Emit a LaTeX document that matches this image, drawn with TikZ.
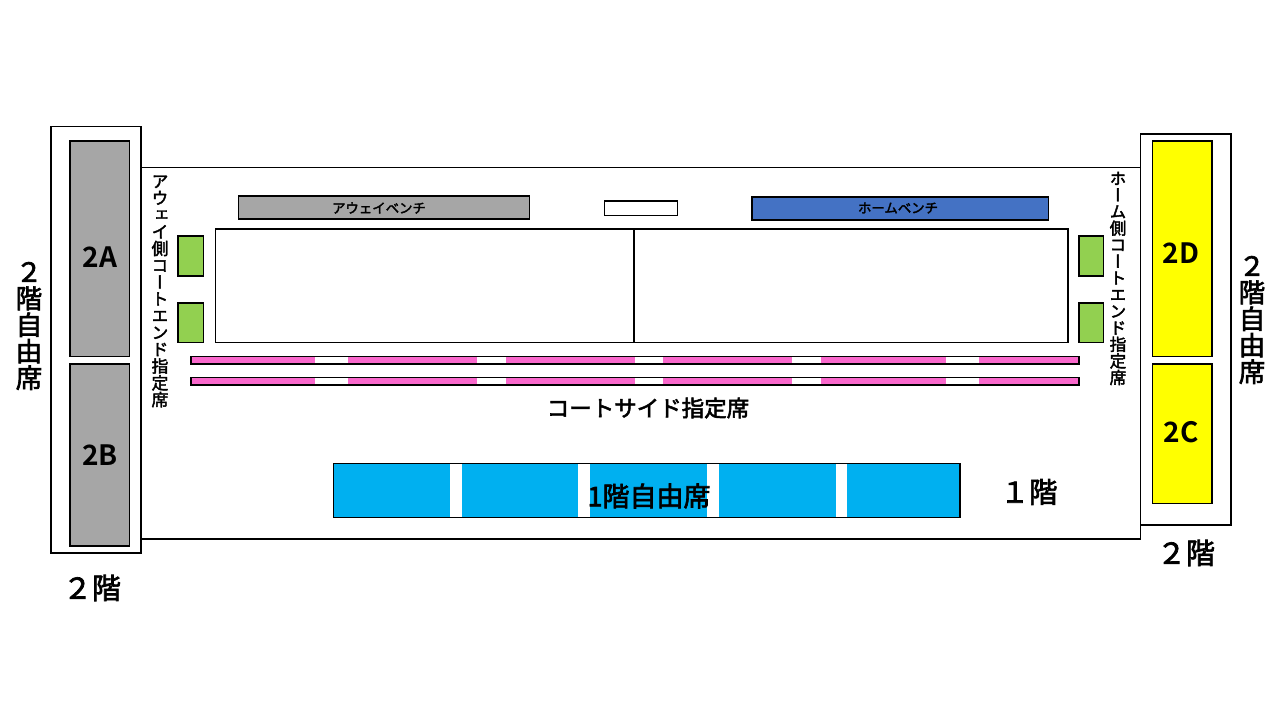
\documentclass[tikz,border=0pt]{standalone}
\usepackage{fontspec}
\setmainfont{Noto Sans CJK JP}
\newfontfamily\cjkr[RawFeature={+kern;embolden=2.4}]{Noto Sans CJK JP}
\newfontfamily\cjkv[RawFeature={+vert;embolden=2.4}]{Noto Sans CJK JP}
\newfontfamily\cjkb{Noto Sans CJK JP Bold}
\newcommand{\fs}[2]{\fontsize{#1}{#2}\selectfont}
\tikzset{
  edge/.style={draw=black,line width=1.15pt},
  hall edge/.style={draw=black,line width=1.3pt},
  greyfill/.style={edge,fill=seatgrey},
  yellowfill/.style={edge,fill=seatyellow},
  greenfill/.style={edge,fill=seatgreen},
  pinkbar/.style={edge,fill=seatpink},
  gap/.style={fill=white,draw=none},
  label/.style={inner sep=0pt,outer sep=0pt,text=black},
  plain/.style={label,font=\cjkr\fs{#1}{#1}},
  blockname/.style={label,font=\cjkb\fs{28}{28}},
  vstack/.style={label,align=center,font=\cjkv\fs{#1}{#1}},
}
\definecolor{seatgrey}{HTML}{A6A6A6}
\definecolor{seatyellow}{HTML}{FFFF00}
\definecolor{seatgreen}{HTML}{92D050}
\definecolor{seatpink}{HTML}{F968CC}
\definecolor{seatblue}{HTML}{00B0F0}
\definecolor{benchblue}{HTML}{4472C4}
\begin{document}
\begin{tikzpicture}[x=1pt,y=-1pt]
\useasboundingbox (0,0) rectangle (1280,720);
\fill[white] (0,0) rectangle (1280,720);
% hall outlines
\draw[hall edge] (141,167.5) rectangle (1140.5,539);
\draw[hall edge,fill=white] (51,126.5) rectangle (141,553);
\draw[hall edge,fill=white] (1140.5,134) rectangle (1231,525);
% second-floor blocks
\draw[greyfill] (70,141) rectangle (129.5,356.5);
\draw[greyfill] (70,364) rectangle (129.5,546);
\draw[yellowfill] (1152.5,141) rectangle (1212,356.5);
\draw[yellowfill] (1152.5,364) rectangle (1212,503.5);
\node[blockname] (a2) at (100,257) {2A};
\node[blockname] (b2) at (100,455) {2B};
\node[blockname] (d2) at (1181,253) {2D};
\node[blockname] (c2) at (1181,432) {2C};
% benches
\draw[greyfill] (238.5,196) rectangle (529.5,219);
\draw[edge,fill=white] (604.5,201) rectangle (677.5,215.5);
\draw[edge,fill=benchblue] (752,197) rectangle (1048.5,220);
\node[plain=13.4] (awaybench) at (379,208) {アウェイベンチ};
\node[plain=13.4] (homebench) at (898,208) {ホームベンチ};
% court
\draw[edge,fill=white] (215.5,229) rectangle (1068,342.5);
\draw[edge] (634,229) -- (634,342.5);
% green seats
\foreach \xa/\xb in {178/203.5,1079/1103.5}{
  \draw[greenfill] (\xa,236) rectangle (\xb,276);
  \draw[greenfill] (\xa,303) rectangle (\xb,342.5);
}
% pink rows
\foreach \ya/\yb in {356.5/364,377.5/385}{
  \draw[pinkbar] (191,\ya) rectangle (1079,\yb);
  \foreach \xa/\xb in {315/348,477/506,635/663,792/821,946/979}{
    \fill[gap] (\xa,\ya+0.6) rectangle (\xb,\yb-0.6);
  }
}
% first-floor block
\draw[edge,fill=seatblue] (333.5,463.5) rectangle (960,517.5);
\foreach \xa/\xb in {450/462,578/590,707/719,836/847}{
  \fill[gap] (\xa,464.1) rectangle (\xb,516.9);
}
\node[plain=27] (floor1seat) at (649,496) {1階自由席};
% labels
\node[plain=28.5] (floor1) at (1029,492) {１階};
\node[plain=29] (floor2r) at (1186,553) {２階};
\node[plain=29] (floor2l) at (92,588) {２階};
\node[plain=22.5] (courtside) at (648,408) {コートサイド指定席};
\node[vstack=26.5] (left2) at (29,326) {２\\階\\自\\由\\席};
\node[vstack=26.5] (right2) at (1252,320) {２\\階\\自\\由\\席};
\node[vstack=16.8] (awayend) at (160,291.5) {ア\\ウ\\ェ\\イ\\側\\コ\\ー\\ト\\エ\\ン\\ド\\指\\定\\席};
\node[vstack=16.6] (homeend) at (1118,278.5) {ホ\\ー\\ム\\側\\コ\\ー\\ト\\エ\\ン\\ド\\指\\定\\席};
\end{tikzpicture}
\end{document}
